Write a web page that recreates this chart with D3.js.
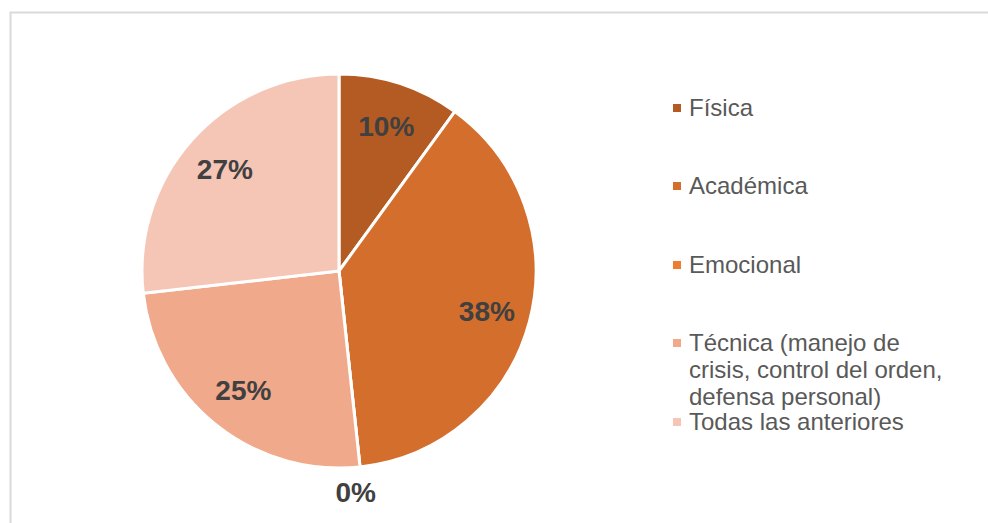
<!DOCTYPE html>
<html><head><meta charset="utf-8">
<script src="https://cdn.jsdelivr.net/npm/d3@7"></script>
<style>body{margin:0;background:#fff}svg{display:block}</style>
</head><body>
<script>
const categories = ["Física","Académica","Emocional","Técnica (manejo de crisis, control del orden, defensa personal)","Todas las anteriores"];
const legendLines = [["Física"],["Académica"],["Emocional"],["Técnica (manejo de","crisis, control del orden,","defensa personal)"],["Todas las anteriores"]];
const values = [10, 38.3, 0, 24.9, 26.8];
const colors = ["#B35B23","#D46E2C","#ED7D31","#F0A98B","#F5C6B6"];

const W = 988, H = 523;
const svg = d3.select("body").append("svg").attr("width", W).attr("height", H);
svg.append("path").attr("d", `M10.5,${H} V12.5 H${W}`).attr("fill","none").attr("stroke","#d9d9d9").attr("stroke-width",2);

const cx = 339, cy = 271, R = 197;
const g = svg.append("g").attr("transform", `translate(${cx},${cy})`);
const pie = d3.pie().sort(null).value(d => d)(values);
const arc = d3.arc().innerRadius(0).outerRadius(R);
g.selectAll("path.s").data(pie).join("path").attr("class","s")
  .attr("d", arc).attr("fill", (d,i) => colors[i])
  .attr("stroke","#fff").attr("stroke-width",3).attr("stroke-linejoin","round");

const labelArc = d3.arc().innerRadius(153).outerRadius(153);
const outArc = d3.arc().innerRadius(222).outerRadius(222);
g.selectAll("text.l").data(pie).join("text").attr("class","l")
  .attr("transform", d => {
    const c = (d.data === 0 ? outArc : labelArc).centroid(d);
    return `translate(${d.data === 0 ? c[0]-7 : c[0]},${c[1]})`;
  })
  .attr("text-anchor","middle").attr("dy","0.36em")
  .attr("font-family","Liberation Sans, Arial, sans-serif")
  .attr("font-weight","bold").attr("font-size",28).attr("fill","#404040")
  .text(d => Math.round(d.data) + "%");

const legY = [108, 186, 265, 343, 422];
const lg = svg.append("g");
legendLines.forEach((lines, i) => {
  lg.append("rect").attr("x", 673).attr("y", legY[i]-4).attr("width", 8).attr("height", 8).attr("fill", colors[i]);
  const t = lg.append("text").attr("x", 689).attr("y", legY[i])
    .attr("font-family","Liberation Sans, Arial, sans-serif").attr("font-size",24).attr("fill","#595959");
  lines.forEach((ln, j) => {
    t.append("tspan").attr("x", 689).attr("dy", j === 0 ? "0.35em" : 27).text(ln);
  });
});
</script>
</body></html>
